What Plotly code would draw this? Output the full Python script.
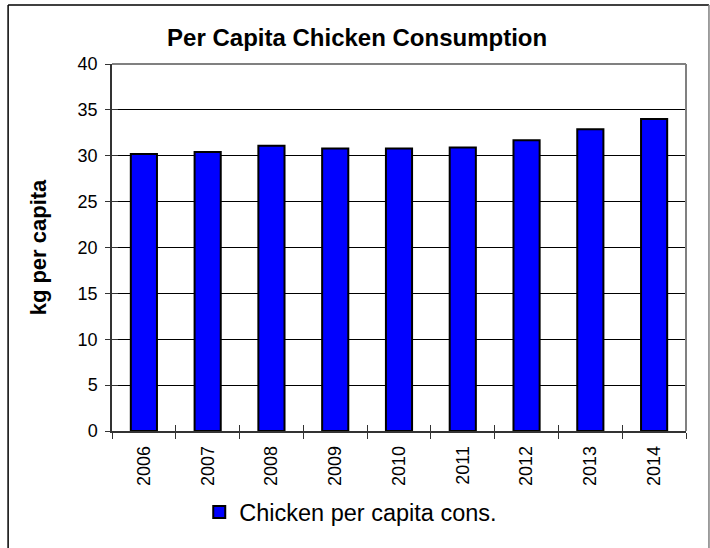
import plotly.graph_objects as go

years = ["2006", "2007", "2008", "2009", "2010", "2011", "2012", "2013", "2014"]
kg_per_capita = [30.2, 30.4, 31.1, 30.8, 30.8, 30.9, 31.7, 32.9, 34.0]
y_ticks = [0, 5, 10, 15, 20, 25, 30, 35, 40]

FONT = "Liberation Sans, Arial, sans-serif"
BLUE = "#0000FF"

fig = go.Figure()

fig.add_trace(go.Bar(
    x=years, y=kg_per_capita,
    name="Chicken per capita cons.",
    marker=dict(color=BLUE, line=dict(color="black", width=2)),
    hoverinfo="x+y",
))

# transparent copy on overlay axes, used to draw the inner half of the crossing ticks
fig.add_trace(go.Bar(
    x=years, y=kg_per_capita, xaxis="x2", yaxis="y2",
    marker=dict(color="rgba(0,0,0,0)", line=dict(width=0)),
    showlegend=False, hoverinfo="skip",
))

fig.update_layout(
    width=710, height=548,
    margin=dict(l=112, r=24, t=64, b=117),
    paper_bgcolor="white", plot_bgcolor="white",
    font=dict(family=FONT, color="black", size=18),
    bargap=0.59,
    title=dict(
        text="<b>Per Capita Chicken Consumption</b>",
        x=0.503, xanchor="center", xref="container",
        y=0.932, yanchor="middle", yref="container",
        font=dict(family=FONT, size=24, color="black"),
    ),
    xaxis=dict(
        type="category", categoryorder="array", categoryarray=years,
        showline=True, linecolor="#333333", linewidth=1.5,
        ticks="outside", tickson="boundaries", ticklen=6, tickcolor="#333333",
        tickangle=-90, showgrid=False, zeroline=False,
        ticklabelstandoff=6,
        tickfont=dict(size=18),
    ),
    xaxis2=dict(
        overlaying="x", matches="x", type="category",
        ticks="inside", tickson="boundaries", ticklen=6, tickcolor="#333333",
        showticklabels=False, showgrid=False, showline=False, zeroline=False,
    ),
    yaxis=dict(
        range=[0, 40], tickvals=y_ticks,
        showline=True, linecolor="#333333", linewidth=1.5,
        ticks="outside", ticklen=5, tickcolor="#333333",
        ticklabelstandoff=4,
        showgrid=True, gridcolor="black", gridwidth=1, zeroline=False,
        tickfont=dict(size=18),
        title=dict(text="<b>kg per capita</b>", font=dict(size=22), standoff=25),
    ),
    yaxis2=dict(
        overlaying="y", matches="y", side="left", tickvals=y_ticks,
        ticks="inside", ticklen=6, tickcolor="#333333",
        showticklabels=False, showgrid=False, showline=False, zeroline=False,
    ),
    showlegend=True,
    legend=dict(
        orientation="h", x=0.152, xanchor="left", y=-0.221, yanchor="middle",
        font=dict(size=23.5), itemsizing="constant",
    ),
    shapes=[
        # grey top and right edges of the plot area
        dict(type="line", xref="paper", yref="paper", x0=0, x1=1, y0=1, y1=1,
             line=dict(color="#808080", width=2), layer="above"),
        dict(type="line", xref="paper", yref="paper", x0=1, x1=1, y0=0, y1=1,
             line=dict(color="#808080", width=2), layer="above"),
        # outer chart frame
        dict(type="line", xref="paper", yref="paper", x0=-0.181, x1=-0.181, y0=1.161, y1=-0.33,
             line=dict(color="black", width=1.5)),
        dict(type="line", xref="paper", yref="paper", x0=-0.181, x1=1.040, y0=1.161, y1=1.161,
             line=dict(color="black", width=1.5)),
        dict(type="line", xref="paper", yref="paper", x0=1.040, x1=1.040, y0=1.161, y1=-0.33,
             line=dict(color="#808080", width=1.5)),
    ],
)

fig.write_html("out.html")
